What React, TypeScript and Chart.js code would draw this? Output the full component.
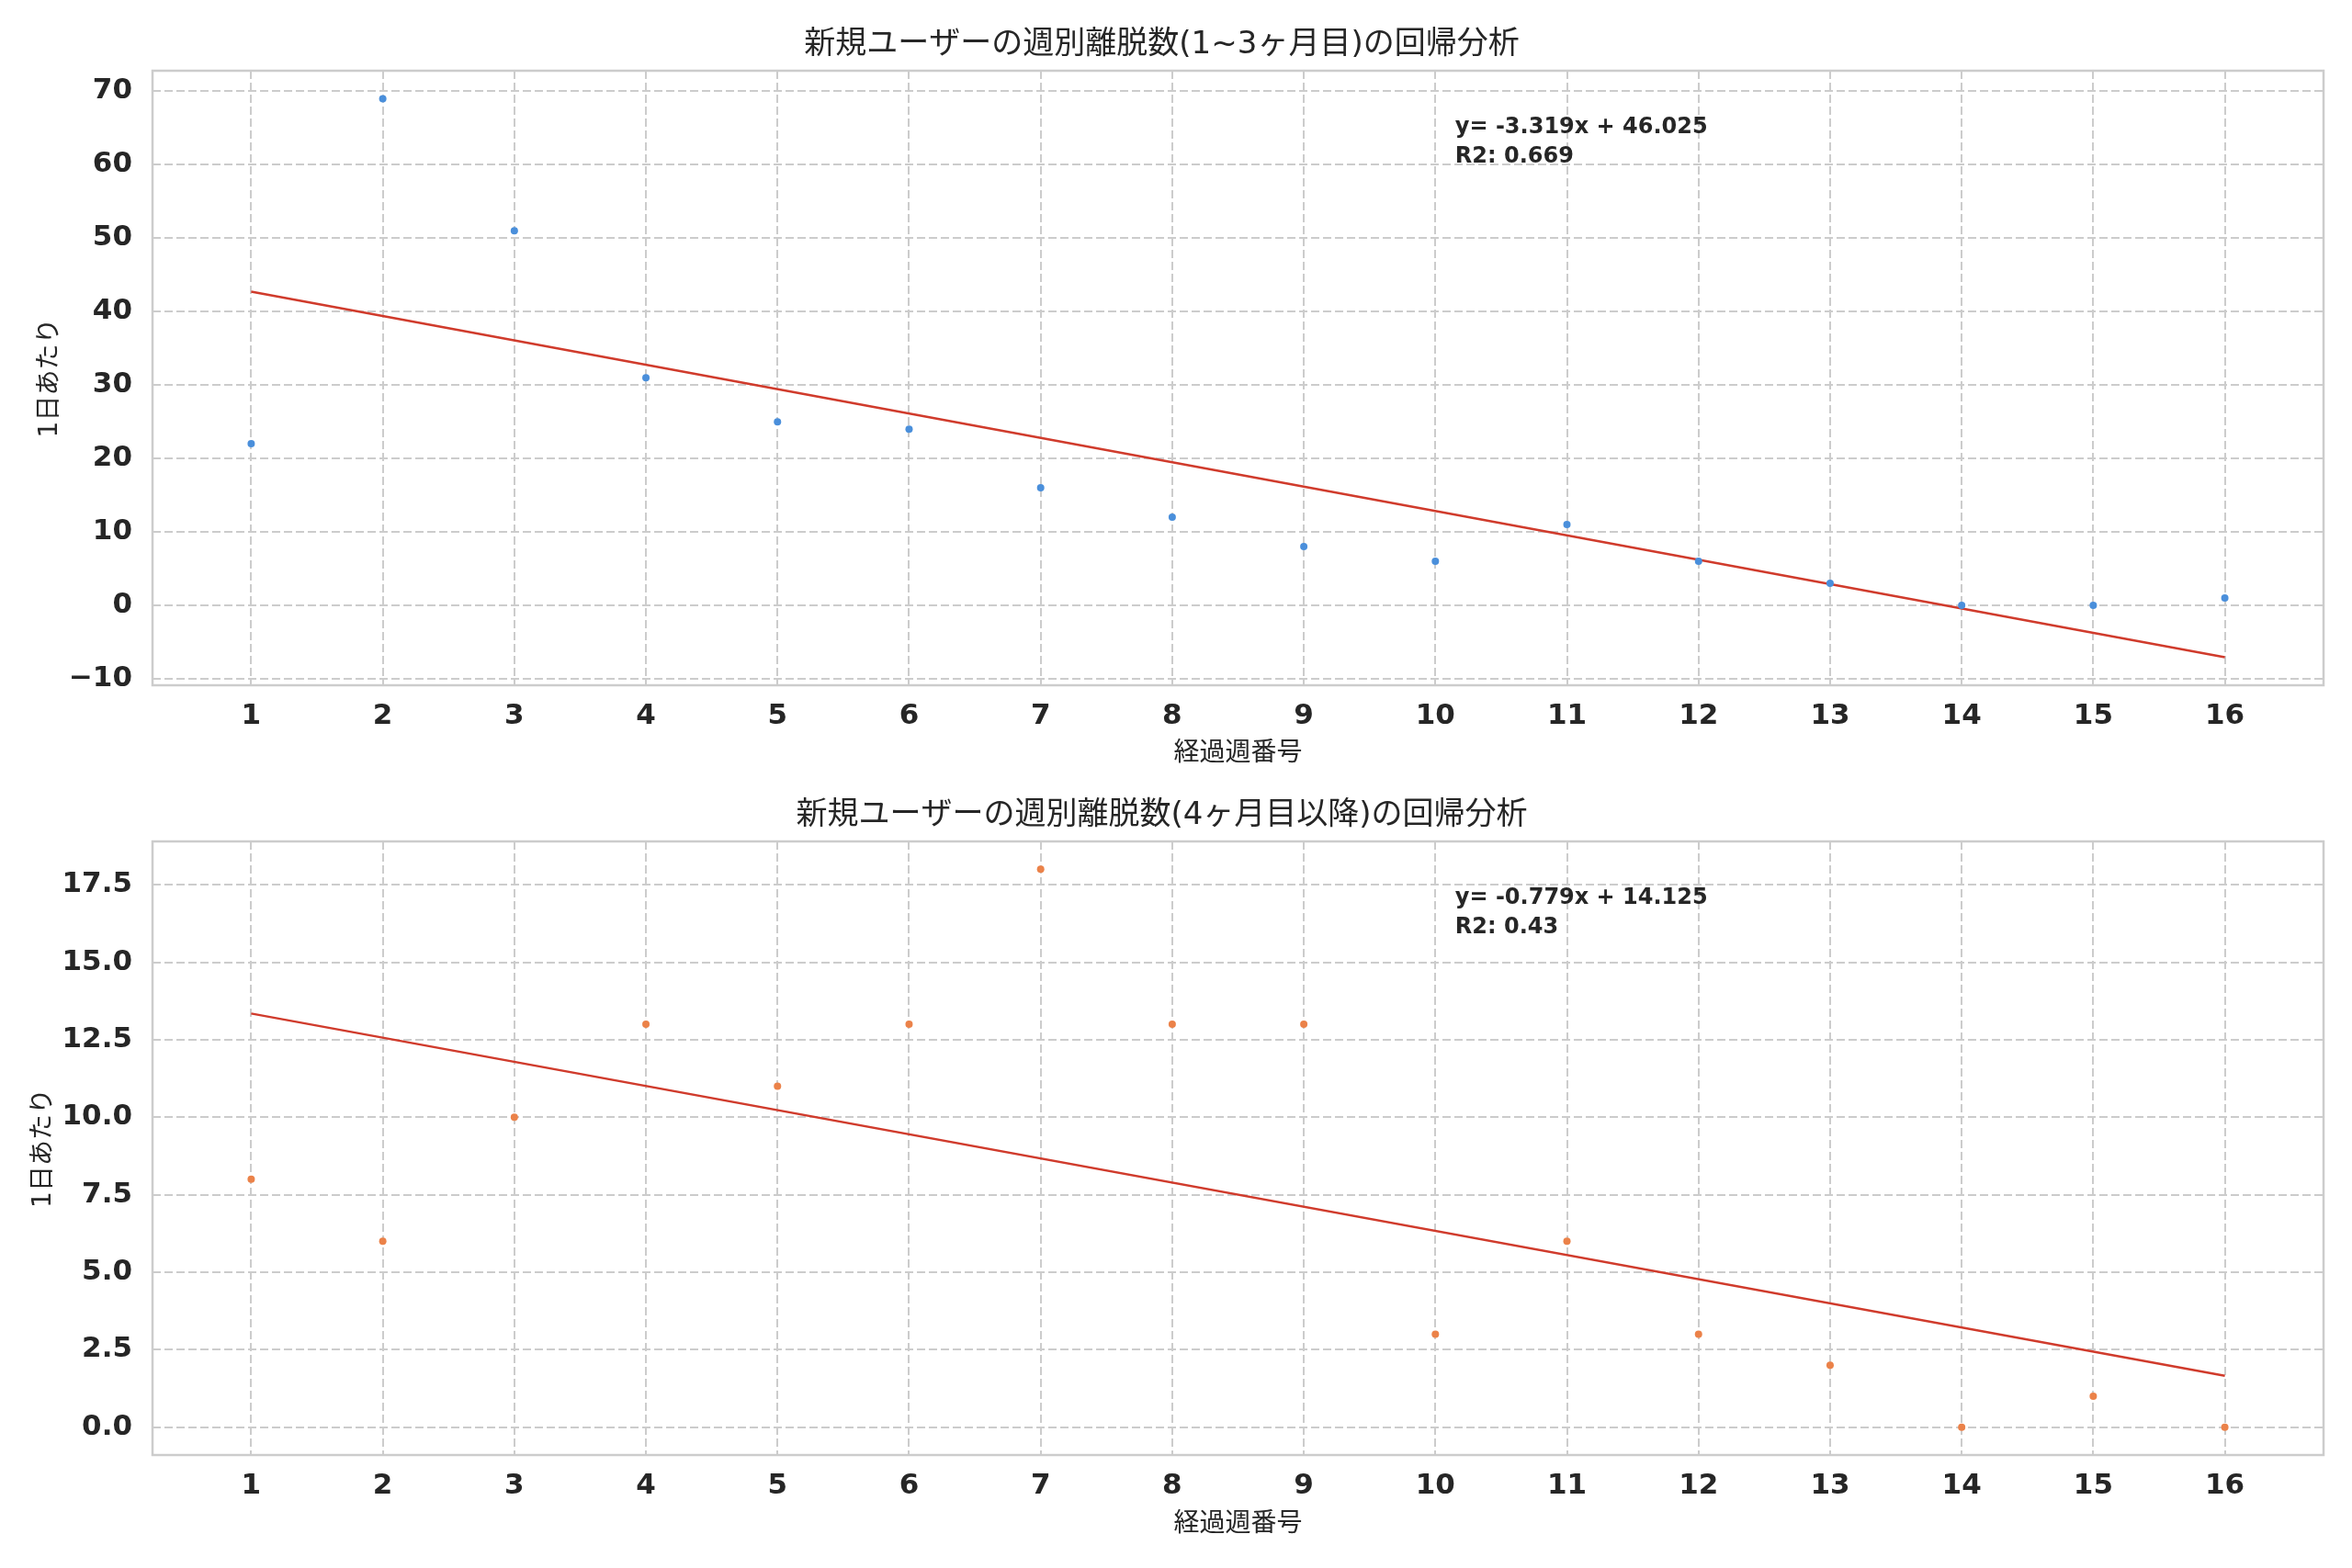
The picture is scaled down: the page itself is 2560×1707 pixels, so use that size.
import React, { useEffect, useRef } from 'react';
import { Chart, registerables } from 'chart.js';

Chart.register(...registerables);

const weeks = [1, 2, 3, 4, 5, 6, 7, 8, 9, 10, 11, 12, 13, 14, 15, 16];
const earlyCounts = [22, 69, 51, 31, 25, 24, 16, 12, 8, 6, 11, 6, 3, 0, 0, 1];
const lateCounts = [8, 6, 10, 13, 11, 13, 18, 13, 13, 3, 6, 3, 2, 0, 1, 0];
const earlyTicks = [-10, 0, 10, 20, 30, 40, 50, 60, 70];
const lateTicks = [0, 2.5, 5, 7.5, 10, 12.5, 15, 17.5];

const FONT = "'DejaVu Sans', 'Noto Sans CJK JP', sans-serif";
const INK = '#262626';
const GRID = '#cccccc';

const fit = (xs: number[], ys: number[]) => {
  const n = xs.length;
  const mx = xs.reduce((a, b) => a + b, 0) / n;
  const my = ys.reduce((a, b) => a + b, 0) / n;
  let sxy = 0, sxx = 0, syy = 0;
  xs.forEach((x, i) => {
    sxy += (x - mx) * (ys[i] - my);
    sxx += (x - mx) * (x - mx);
    syy += (ys[i] - my) * (ys[i] - my);
  });
  const slope = sxy / sxx;
  return { slope, intercept: my - slope * mx, r2: (sxy * sxy) / (sxx * syy) };
};

const r3 = (v: number) => String(Math.round(v * 1000) / 1000);

type Props = {
  title: string;
  counts: number[];
  color: string;
  yTicks: number[];
  fmt: (v: number) => string;
  height: number;
  titlePad: { top: number; bottom: number };
  xAxisHeight: number;
  xTitlePad: number;
  yTitlePad: number;
};

const RegressionChart = (p: Props) => {
  const canvasRef = useRef<HTMLCanvasElement | null>(null);

  useEffect(() => {
    const ctx = canvasRef.current?.getContext('2d') as any;
    const { slope, intercept, r2 } = fit(weeks, p.counts);
    const x0 = weeks[0];
    const x1 = weeks[weeks.length - 1];
    const linePts = [
      { x: x0, y: slope * x0 + intercept },
      { x: x1, y: slope * x1 + intercept },
    ];
    // matplotlib style 5% margins
    const ys = [...p.counts, ...linePts.map(d => d.y)];
    const lo = Math.min(...ys), hi = Math.max(...ys);
    const yPad = (hi - lo) * 0.05;
    const xPad = (x1 - x0) * 0.05;

    const framePlugin = {
      id: 'frame',
      afterDraw(chart: any) {
        const { ctx: c, chartArea: a } = chart;
        c.save();
        c.strokeStyle = GRID;
        c.lineWidth = 2.5;
        c.strokeRect(a.left, a.top, a.right - a.left, a.bottom - a.top);
        const w = a.right - a.left, h = a.bottom - a.top;
        c.fillStyle = INK;
        c.font = `bold 24px ${FONT}`;
        c.textAlign = 'left';
        c.textBaseline = 'alphabetic';
        const tx = a.left + 0.6 * w;
        c.fillText(`y= ${r3(slope)}x + ${r3(intercept)}`, tx, a.top + 0.102 * h);
        c.fillText(`R2: ${r3(r2)}`, tx, a.top + 0.149 * h);
        c.restore();
      },
    };

    const tickFont = { family: FONT, size: 31, weight: 'bold' as const };
    const labelFont = { family: FONT, size: 28 };

    const chart = new Chart(ctx, {
      type: 'scatter',
      data: {
        datasets: [
          {
            type: 'scatter',
            data: weeks.map((w, i) => ({ x: w, y: p.counts[i] })),
            backgroundColor: p.color,
            borderColor: p.color,
            pointRadius: 4,
            pointBorderWidth: 0,
          },
          {
            type: 'line',
            data: linePts,
            borderColor: '#d03b2c',
            borderWidth: 2.5,
            pointRadius: 0,
            fill: false,
          } as any,
        ],
      },
      options: {
        animation: false,
        responsive: false,
        devicePixelRatio: 1,
        events: [],
        layout: { padding: { left: 0, right: 31, top: 0, bottom: 0 } },
        scales: {
          x: {
            type: 'linear',
            min: x0 - xPad,
            max: x1 + xPad,
            afterBuildTicks: (s: any) => {
              s.ticks = weeks.map(v => ({ value: v }));
            },
            afterFit: (s: any) => {
              s.height = p.xAxisHeight;
            },
            grid: { color: GRID, lineWidth: 2, drawTicks: false },
            border: { display: false, dash: [9, 4] },
            ticks: { color: INK, font: tickFont, padding: 15, callback: (v: any) => String(v) },
            title: {
              display: true,
              text: '経過週番号',
              color: INK,
              font: labelFont,
              padding: { top: 0, bottom: p.xTitlePad },
            },
          },
          y: {
            type: 'linear',
            min: lo - yPad,
            max: hi + yPad,
            afterBuildTicks: (s: any) => {
              s.ticks = p.yTicks.map(v => ({ value: v }));
            },
            afterFit: (s: any) => {
              s.width = 166;
            },
            grid: { color: GRID, lineWidth: 2, drawTicks: false },
            border: { display: false, dash: [9, 4] },
            ticks: { color: INK, font: tickFont, padding: 22, callback: (v: any) => p.fmt(Number(v)) },
            title: {
              display: true,
              text: '1日あたり',
              color: INK,
              font: labelFont,
              padding: { top: p.yTitlePad, bottom: 0 },
            },
          },
        },
        plugins: {
          legend: { display: false },
          tooltip: { enabled: false },
          title: {
            display: true,
            text: p.title,
            color: INK,
            font: { family: FONT, size: 34, weight: 'normal' },
            padding: p.titlePad,
          },
        },
      },
      plugins: [framePlugin],
    });

    return () => {
      chart.destroy();
    };
  }, [canvasRef]);

  return (
    <canvas
      ref={canvasRef}
      width={2560}
      height={p.height}
      style={{ display: 'block', width: 2560, height: p.height }}
    />
  );
};

const intFmt = (v: number) => String(Math.round(v)).replace('-', '\u2212');
const decFmt = (v: number) => v.toFixed(1).replace('-', '\u2212');

const App = () => {
  useEffect(() => {
    document.body.style.margin = '0';
    document.body.style.background = '#ffffff';
  }, []);

  return (
    <div style={{ width: 2560, height: 1707, background: '#ffffff', overflow: 'hidden' }}>
      <RegressionChart
        title="新規ユーザーの週別離脱数(1~3ヶ月目)の回帰分析"
        counts={earlyCounts}
        color="#4a8fdb"
        yTicks={earlyTicks}
        fmt={intFmt}
        height={853}
        titlePad={{ top: 28.6, bottom: 7.6 }}
        xAxisHeight={107}
        xTitlePad={15}
        yTitlePad={38}
      />
      <RegressionChart
        title="新規ユーザーの週別離脱数(4ヶ月目以降)の回帰分析"
        counts={lateCounts}
        color="#eb8249"
        yTicks={lateTicks}
        fmt={decFmt}
        height={854}
        titlePad={{ top: 14.6, bottom: 7.6 }}
        xAxisHeight={123}
        xTitlePad={30}
        yTitlePad={31}
      />
    </div>
  );
};

export default App;
